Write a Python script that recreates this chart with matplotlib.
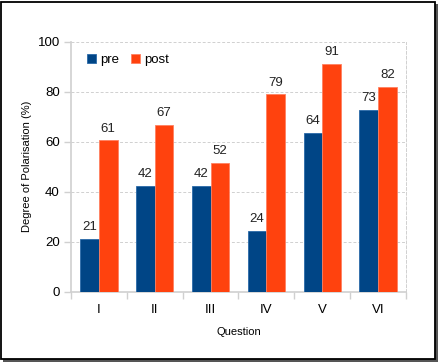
import matplotlib.pyplot as plt
import numpy as np
from matplotlib.patches import Rectangle

plt.rcParams['font.family'] = ['Liberation Sans', 'DejaVu Sans']

# data
questions = ["I", "II", "III", "IV", "V", "VI"]
pre = [21.1, 42.4, 42.4, 24.3, 63.6, 72.8]
post = [60.6, 66.7, 51.6, 79.0, 91.1, 81.9]

fig = plt.figure(figsize=(4.38, 3.62), dpi=100)
ax = fig.add_axes([71 / 438, 1 - 291.7 / 362, (406 - 71) / 438, 250 / 362])

x = np.arange(len(questions))
w = 0.335
grid_col = "#d0d0d0"

b1 = ax.bar(x - w / 2, pre, w, color="#004586", edgecolor="#2a6aa8", linewidth=0.6, label="pre", zorder=3)
b2 = ax.bar(x + w / 2, post, w, color="#ff420e", edgecolor="#ff8060", linewidth=0.6, label="post", zorder=3)

for bars, vals in ((b1, pre), (b2, post)):
    for rect, v in zip(bars, vals):
        ax.text(rect.get_x() + rect.get_width() / 2, v + 2.2, f"{v:.0f}",
                ha="center", va="bottom", fontsize=9.5, color="#222222")

ax.set_xlim(-0.5, len(questions) - 0.5)
ax.set_ylim(0, 100)
ax.set_yticks(range(0, 101, 20))
ax.set_xticks(x)
ax.set_xticklabels(questions)
ax.set_xticks(np.arange(-0.5, len(questions)), minor=True)

ax.tick_params(axis="x", which="major", length=0, pad=9, labelsize=9.5)
ax.tick_params(axis="x", which="minor", length=5, color=grid_col, width=1)
ax.tick_params(axis="y", length=5, color=grid_col, width=1, pad=3, labelsize=9.5)

ax.grid(axis="y", linestyle=(0, (3, 2)), color=grid_col, linewidth=0.7, zorder=0)

ax.spines["left"].set_color(grid_col)
ax.spines["bottom"].set_color(grid_col)
ax.spines["left"].set_linewidth(1.2)
ax.spines["bottom"].set_linewidth(1.2)
ax.spines["right"].set_color(grid_col)
ax.spines["right"].set_linestyle((0, (3, 2)))
ax.spines["right"].set_linewidth(0.7)
ax.spines["top"].set_visible(False)

ax.set_xlabel("Question", fontsize=8, labelpad=8)
ax.set_ylabel("Degree of Polarisation (%)", fontsize=8, labelpad=4)

ax.legend(loc="upper left", frameon=False, fontsize=9.5, handlelength=0.7,
          handleheight=0.7, handletextpad=0.3, columnspacing=0.9, ncol=2,
          bbox_to_anchor=(0.012, 1.0))

# frame with shadow around the whole picture
fig.patches.append(Rectangle((3 / 438, 0.0), 1 - 3 / 438, 1 - 4 / 362, transform=fig.transFigure,
                             facecolor="#555555", edgecolor="none", zorder=-2))
fig.patches.append(Rectangle((1 / 438, 3 / 362), 1 - 4 / 438, 1 - 4.5 / 362, transform=fig.transFigure,
                             facecolor="white", edgecolor="black", linewidth=1.3, zorder=-1))

fig.savefig("out.png", dpi=100)
